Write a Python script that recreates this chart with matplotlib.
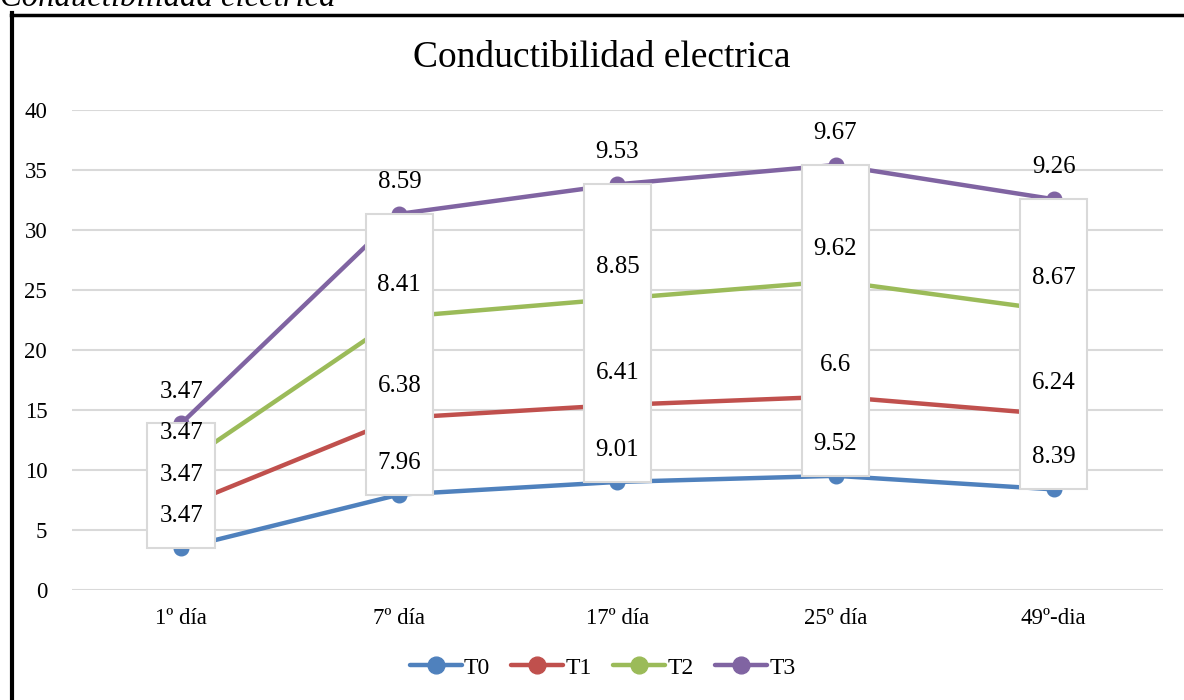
import matplotlib.pyplot as plt
from matplotlib.patches import Rectangle
from matplotlib.lines import Line2D

plt.rcParams['font.family'] = ['Liberation Serif', 'DejaVu Serif']

# datos
dias = ['1º día', '7º día', '17º día', '25º día', '49º-dia']
series = ['T0', 'T1', 'T2', 'T3']
t0 = [3.47, 7.96, 9.01, 9.52, 8.39]
t1 = [3.47, 6.38, 6.41, 6.6, 6.24]
t2 = [3.47, 8.41, 8.85, 9.62, 8.67]
t3 = [3.47, 8.59, 9.53, 9.67, 9.26]
colores = ['#4f81bd', '#c0504d', '#9bbb59', '#8064a2']

fig = plt.figure(figsize=(11.84, 7), dpi=100)
ax = fig.add_axes([0.061, 0.157, 0.921, 0.686])

x = list(range(len(dias)))
valores = [t0, t1, t2, t3]

# lineas apiladas (acumuladas)
acum = [0] * len(dias)
tops = []
for nombre, vals, c in zip(series, valores, colores):
    acum = [a + v for a, v in zip(acum, vals)]
    tops.append(list(acum))
    ax.plot(x, acum, color=c, lw=3.2, marker='o', ms=10.5, label=nombre,
            solid_capstyle='round', zorder=3)

# cajas blancas de las etiquetas
for i in x:
    ax.add_patch(Rectangle((i - 0.155, tops[0][i]), 0.31, tops[3][i] - tops[0][i],
                           facecolor='white', edgecolor='#d9d9d9', lw=1.5, zorder=4))

# etiquetas de datos
for vals, top in zip(valores, tops):
    for i in x:
        ax.annotate(f'{vals[i]:g}', (i, top[i]), xytext=(0, 23), textcoords='offset points',
                    ha='center', va='center', fontsize=18, zorder=5)

ax.set_xlim(-0.5, 4.5)
ax.set_ylim(0, 40)
ax.set_yticks(range(0, 41, 5))
ax.set_xticks(x)
ax.set_xticklabels(dias)
ax.tick_params(length=0, labelsize=16.5, pad=13)
ax.tick_params(axis='y', pad=18)
ax.grid(axis='y', color='#d9d9d9', lw=1.5)
ax.set_axisbelow(True)
for s in ax.spines.values():
    s.set_visible(False)

fig.text(0.508, 0.918, 'Conductibilidad electrica', ha='center', va='center', fontsize=27)
fig.text(0.0, 0.991, 'Conductibilidad electrica', ha='left', va='baseline',
         fontsize=23.5, style='italic')

fig.legend(loc='center', bbox_to_anchor=(0.509, 0.046), ncol=4, frameon=False,
           fontsize=17, handlelength=2.2, handletextpad=0.1, columnspacing=0.9,
           markerscale=1.15)

# marco negro
fig.add_artist(Line2D([0.0105, 0.0105], [0, 0.981], color='black', lw=3))
fig.add_artist(Line2D([0.009, 1], [0.979, 0.979], color='black', lw=2.5))

fig.savefig('out.png', dpi=100)
